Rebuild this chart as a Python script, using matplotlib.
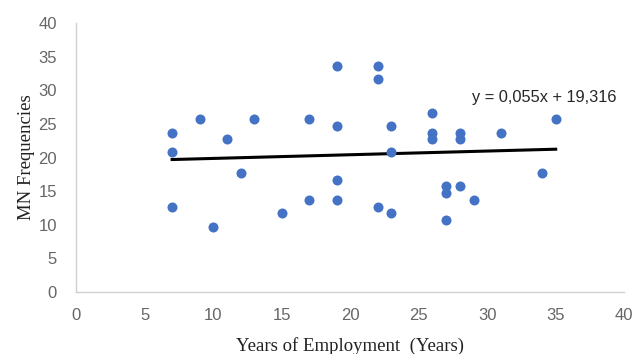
import matplotlib
matplotlib.use("Agg")
import matplotlib.pyplot as plt
import numpy as np

# years of employment vs MN frequencies
years = [7, 7, 7, 9, 10, 11, 12, 13, 15, 17, 17, 19, 19, 19, 19, 22, 22, 22,
         23, 23, 23, 26, 26, 26, 27, 27, 27, 28, 28, 28, 29, 31, 34, 35]
mn_freq = [23.6, 20.8, 12.7, 25.7, 9.6, 22.8, 17.7, 25.7, 11.7, 25.7, 13.7,
           33.7, 24.7, 16.7, 13.7, 33.7, 31.7, 12.7, 24.7, 20.8, 11.7, 26.6,
           23.7, 22.7, 15.7, 14.7, 10.7, 23.7, 22.7, 15.7, 13.7, 23.7, 17.7,
           25.7]

slope = 0.055
intercept = 19.316
trend_label = "y = 0,055x + 19,316"

xticks = [0, 5, 10, 15, 20, 25, 30, 35, 40]
yticks = [0, 5, 10, 15, 20, 25, 30, 35, 40]

fig = plt.figure(figsize=(6.35, 3.54), dpi=100)
ax = fig.add_axes([0.12, 0.176, 0.863, 0.758])

ax.scatter(years, mn_freq, s=52, color="#4472C4", zorder=3, linewidths=0)

xs = np.array([min(years), max(years)])
ax.plot(xs, slope * xs + intercept, color="black", linewidth=2.2, zorder=2)

ax.text(28.9, 28.9, trend_label, fontsize=11.8, color="#262626",
        family="Liberation Sans", va="center", ha="left")

ax.set_xlim(0, 40)
ax.set_ylim(0, 40)
ax.set_xticks(xticks)
ax.set_yticks(yticks)
ax.tick_params(axis="x", length=0, labelsize=12, colors="#666666", pad=12)
ax.tick_params(axis="y", length=0, labelsize=12, colors="#666666", pad=14)
for lbl in ax.get_xticklabels() + ax.get_yticklabels():
    lbl.set_family("Liberation Sans")

for side in ("top", "right"):
    ax.spines[side].set_visible(False)
for side in ("left", "bottom"):
    ax.spines[side].set_color("#D0D0D0")
    ax.spines[side].set_linewidth(1.0)

ax.set_xlabel("Years of Employment  (Years)", family="Liberation Serif",
              fontsize=13.5, color="#222222", labelpad=10)
ax.set_ylabel("MN Frequencies", family="Liberation Serif",
              fontsize=13.5, color="#222222", labelpad=2)

fig.savefig("out.png", dpi=100)
